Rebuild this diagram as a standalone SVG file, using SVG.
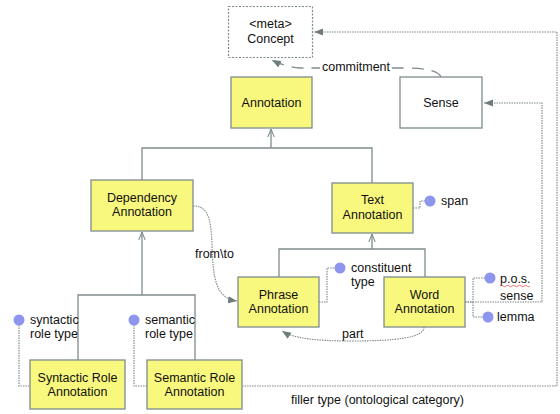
<svg xmlns="http://www.w3.org/2000/svg" width="560" height="414" viewBox="0 0 560 414">
<defs>
<style>
text{font-family:"Liberation Sans",Arial,sans-serif;font-size:12.5px;fill:#111;}
.box{fill:#f8f77e;stroke:#7f8c8d;stroke-width:1.3;}
.wbox{fill:#fff;stroke:#7f8c8d;stroke-width:1.3;}
.dbox{fill:#fff;stroke:#7f8c8d;stroke-width:1.2;stroke-dasharray:2,1.5;}
.inh{fill:none;stroke:#7f8c8d;stroke-width:1.3;}
.dot{fill:none;stroke:#7d8888;stroke-width:1.1;stroke-dasharray:1.5,1;}
.dash{fill:none;stroke:#7f8c8d;stroke-width:1.3;stroke-dasharray:12,8;}
.attr{fill:#8e95ee;}
</style>
<marker id="open" viewBox="0 0 10 10" refX="10" refY="5" markerWidth="8" markerHeight="8" orient="auto" markerUnits="userSpaceOnUse">
<path d="M0,1 L10,5 L0,9" fill="none" stroke="#7f8c8d" stroke-width="1.3"/>
</marker>
<marker id="fill" viewBox="0 0 10 10" refX="10" refY="5" markerWidth="9" markerHeight="9" orient="auto" markerUnits="userSpaceOnUse">
<path d="M0,1 L10,5 L0,9 Z" fill="#6f7c7c"/>
</marker>
</defs>
<rect width="560" height="414" fill="#fff"/>

<g id="connectors">
<path class="inh" d="M142,180 V148 H372 V183"/>
<path class="inh" d="M271,148 V129" marker-end="url(#open)"/>
<path class="inh" d="M279,277 V249 H425 V277"/>
<path class="inh" d="M372,249 V234" marker-end="url(#open)"/>
<path class="inh" d="M78,360 V295 H195 V360"/>
<path class="inh" d="M142,295 V232" marker-end="url(#open)"/>
<path class="dash" d="M441,77 Q438,68 405,68 L300,68 Q285,67 272,60" marker-end="url(#fill)"/>
<path class="dot" d="M242,386 H557 V32 H314" marker-end="url(#fill)"/>
<path class="dot" d="M465,302 H542 V103 H484" marker-end="url(#fill)"/>
<path class="dot" d="M193,206 C207,206 211,216 212,245 C213,280 216,298 237,301" marker-end="url(#fill)"/>
<path class="dot" d="M424,327 C424,338 395,341 350,341 C315,341 293,338 282,331" marker-end="url(#fill)"/>
<path class="dot" d="M413,208 H420 V201 H426"/>
<path class="dot" d="M319,302 H327 V268 H336"/>
<path class="dot" d="M465,302 H473 V278 H486 M473,302 V317 H483"/>
<path class="dot" d="M19,320 V386 H30"/>
<path class="dot" d="M134,320 V386 H147"/>
</g>

<g id="concept">
<rect class="dbox" x="228.5" y="6.5" width="84" height="51"/>
<text x="270.5" y="28" text-anchor="middle">&lt;meta&gt;</text>
<text x="270.5" y="43" text-anchor="middle">Concept</text>
</g>
<g id="commitment-label">
<rect x="320" y="60" width="72" height="13" fill="#fff"/>
<text x="356" y="71" text-anchor="middle">commitment</text>
</g>
<g id="annotation">
<rect class="box" x="231" y="77" width="81" height="51"/>
<text x="271.5" y="107" text-anchor="middle">Annotation</text>
</g>
<g id="sense">
<rect class="wbox" x="400" y="77" width="82" height="51"/>
<text x="441" y="107" text-anchor="middle">Sense</text>
</g>
<g id="dependency">
<rect class="box" x="91" y="180" width="102" height="51"/>
<text x="142" y="202" text-anchor="middle">Dependency</text>
<text x="142" y="216" text-anchor="middle">Annotation</text>
</g>
<g id="text-annotation">
<rect class="box" x="332" y="183" width="81" height="50"/>
<text x="372.5" y="204" text-anchor="middle">Text</text>
<text x="372.5" y="219" text-anchor="middle">Annotation</text>
</g>
<g id="span">
<circle class="attr" cx="430" cy="201" r="5.5"/>
<text x="441" y="205">span</text>
</g>
<g id="phrase">
<rect class="box" x="238" y="277" width="81" height="50"/>
<text x="278.5" y="299" text-anchor="middle">Phrase</text>
<text x="278.5" y="313" text-anchor="middle">Annotation</text>
</g>
<g id="constituent-type">
<circle class="attr" cx="340" cy="268" r="5.5"/>
<text x="351" y="272">constituent</text>
<text x="351" y="286">type</text>
</g>
<g id="word">
<rect class="box" x="384" y="277" width="81" height="50"/>
<text x="424.5" y="299" text-anchor="middle">Word</text>
<text x="424.5" y="313" text-anchor="middle">Annotation</text>
</g>
<g id="pos">
<circle class="attr" cx="490" cy="278" r="5.5"/>
<text x="500" y="283">p.o.s.</text>
<path d="M500,286 q1.5,-1.5 3,0 t3,0 t3,0 t3,0 t3,0 t3,0 t3,0 t3,0 t3,0 t3,0" fill="none" stroke="#e05050" stroke-width="0.8"/>
</g>
<text x="500" y="300" id="sense-label">sense</text>
<g id="lemma">
<circle class="attr" cx="488" cy="317" r="5.5"/>
<text x="497" y="321">lemma</text>
</g>
<text x="195" y="258" id="fromto-label">from\to</text>
<text x="342" y="338" id="part-label">part</text>
<g id="syntactic-role-type">
<circle class="attr" cx="19" cy="320" r="5.5"/>
<text x="30" y="324">syntactic</text>
<text x="30" y="338">role type</text>
</g>
<g id="semantic-role-type">
<circle class="attr" cx="134" cy="320" r="5.5"/>
<text x="145" y="324">semantic</text>
<text x="145" y="338">role type</text>
</g>
<g id="syntactic-role">
<rect class="box" x="30" y="360" width="95" height="49"/>
<text x="77.5" y="382" text-anchor="middle">Syntactic Role</text>
<text x="77.5" y="396" text-anchor="middle">Annotation</text>
</g>
<g id="semantic-role">
<rect class="box" x="147" y="360" width="95" height="49"/>
<text x="194.5" y="382" text-anchor="middle">Semantic Role</text>
<text x="194.5" y="396" text-anchor="middle">Annotation</text>
</g>
<text x="291" y="404" id="filler-label">filler type (ontological category)</text>
</svg>
